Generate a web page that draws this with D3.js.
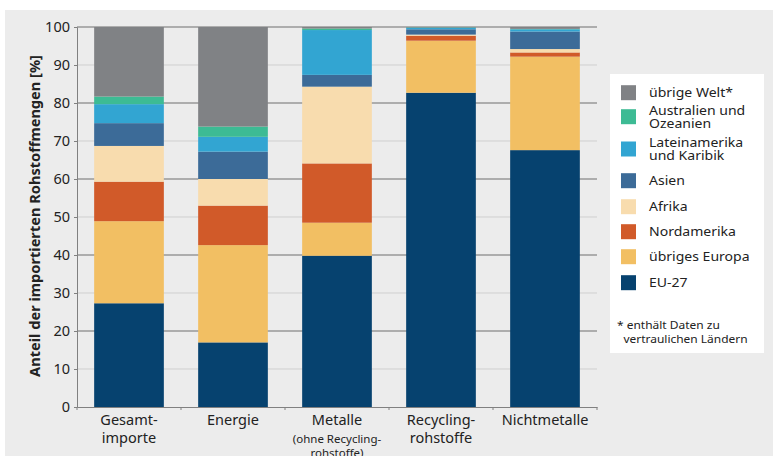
<!DOCTYPE html>
<html><head><meta charset="utf-8">
<script src="https://cdn.jsdelivr.net/npm/d3@7"></script>
<style>
html,body{margin:0;padding:0;background:#fff;}
svg{display:block;font-family:"Noto Sans","Open Sans",sans-serif;}
</style></head>
<body>
<svg id="c" width="773" height="456"></svg>
<script>
const categories = [["Gesamt-","importe"],["Energie"],["Metalle"],["Recycling-","rohstoffe"],["Nichtmetalle"]];
const categoryKeys = ["Gesamtimporte","Energie","Metalle","Recyclingrohstoffe","Nichtmetalle"];
const seriesNames = ["EU-27","übriges Europa","Nordamerika","Afrika","Asien","Lateinamerika und Karibik","Australien und Ozeanien","übrige Welt*"];
const eu27        = [27.3, 17.0, 39.8, 82.7, 67.6];
const uebrEuropa  = [21.6, 25.6,  8.7, 13.7, 24.6];
const nordamerika = [10.4, 10.4, 15.6,  1.3,  1.1];
const afrika      = [ 9.4,  7.0, 20.2,  0.3,  0.9];
const asien       = [ 6.0,  7.2,  3.1,  1.4,  4.6];
const lateinam    = [ 5.0,  3.9, 11.8,  0.4,  0.6];
const australien  = [ 2.0,  2.7,  0.4,  0.1,  0.1];
const uebrWelt    = [18.3, 26.2,  0.4,  0.1,  0.5];
const yTicks = [0,10,20,30,40,50,60,70,80,90,100];
const colors = ["#06426f","#f2bf63","#d15a29","#f8dcae","#3c6b98","#32a5d2","#3dbb94","#808285"];
const legendLabels = [["übrige Welt*"],["Australien und","Ozeanien"],["Lateinamerika","und Karibik"],["Asien"],["Afrika"],["Nordamerika"],["übriges Europa"],["EU-27"]];

const seriesVals = [eu27,uebrEuropa,nordamerika,afrika,asien,lateinam,australien,uebrWelt];
const rows = categoryKeys.map((k,i)=>{const r={cat:k}; seriesNames.forEach((s,j)=>r[s]=seriesVals[j][i]); return r;});
const stack = d3.stack().keys(seriesNames)(rows);

const svg = d3.select("#c");
svg.append("rect").attr("x",5).attr("y",10).attr("width",768).attr("height",446).attr("fill","#ececec");

const x = d3.scaleBand().domain(categoryKeys).range([77,597]).paddingInner(0.33).paddingOuter(0.165);
const y = d3.scaleLinear().domain([0,100]).range([407,27]);

// gridlines
svg.append("g").selectAll("line").data(yTicks.filter(d=>d>0)).join("line")
  .attr("x1",77).attr("x2",597).attr("y1",d=>y(d)).attr("y2",d=>y(d))
  .attr("stroke",d=>d%20===0?"#6e6e6e":"#cfcfcf").attr("stroke-width",1);

// bars
svg.append("g").selectAll("g").data(stack).join("g").attr("fill",(d,i)=>colors[i])
  .selectAll("rect").data(d=>d).join("rect")
  .attr("x",d=>x(d.data.cat)).attr("width",x.bandwidth())
  .attr("y",d=>y(d[1])).attr("height",d=>Math.max(0,y(d[0])-y(d[1])));

// axes
const yAxis = svg.append("g").attr("transform","translate(77,0)")
  .call(d3.axisLeft(y).tickValues(yTicks).tickSize(3).tickPadding(4));
yAxis.select(".domain").attr("stroke","#808080");
yAxis.selectAll(".tick line").attr("stroke","#808080");
yAxis.selectAll("text").attr("font-size",14.5).attr("fill","#222").attr("font-family","Noto Sans, Open Sans, sans-serif");

const xAxis = svg.append("g").attr("transform","translate(0,407)")
  .call(d3.axisBottom(x).tickSize(0).tickFormat(""));
xAxis.select(".domain").attr("stroke","#808080");
svg.append("g").selectAll("line").data(d3.range(categoryKeys.length+1)).join("line")
  .attr("x1",i=>77+x.step()*i).attr("x2",i=>77+x.step()*i).attr("y1",407).attr("y2",410)
  .attr("stroke","#808080");

// x labels
const xl = svg.append("g");
categoryKeys.forEach((k,i)=>{
  const cx = x(k)+x.bandwidth()/2;
  const t = xl.append("text").attr("x",cx).attr("y",425).attr("text-anchor","middle")
      .attr("font-size",14.5).attr("fill","#222");
  categories[i].forEach((s,j)=>{
    t.append("tspan").attr("x",cx).attr("dy",j===0?0:18).text(s);
  });
});
const mx = x("Metalle")+x.bandwidth()/2;
const sub = xl.append("text").attr("x",mx).attr("y",443).attr("text-anchor","middle").attr("font-size",11.5).attr("fill","#222");
sub.append("tspan").attr("x",mx).attr("dy",0).text("(ohne Recycling-");
sub.append("tspan").attr("x",mx).attr("dy",14).text("rohstoffe)");

// y title
svg.append("text").attr("transform","translate(40,216) rotate(-90)").attr("text-anchor","middle")
  .attr("font-size",14.6).attr("font-weight","bold").attr("fill","#222")
  .text("Anteil der importierten Rohstoffmengen [%]");

// legend
const lg = svg.append("g");
lg.append("rect").attr("x",610).attr("y",74).attr("width",154).attr("height",279).attr("fill","#fff");
const centers = [92.7,116.7,149,180.7,206.7,231.7,256.7,282.7];
legendLabels.forEach((lab,i)=>{
  const cy = centers[i];
  lg.append("rect").attr("x",621).attr("y",cy-7.5).attr("width",15).attr("height",15).attr("fill",colors[colors.length-1-i]);
  const n = lab.length;
  const t = lg.append("text")
    .attr("transform",`translate(649,${cy - (n-1)/2*13.3 + 4.6}) scale(1.08,1)`)
    .attr("font-size",13).attr("fill","#222");
  lab.forEach((s,j)=>{
    t.append("tspan").attr("x",0).attr("dy",j===0?0:13.3).text(s);
  });
});
const fn = lg.append("text").attr("transform","translate(617,329) scale(1.07,1)").attr("font-size",11.2).attr("fill","#222");
fn.append("tspan").attr("x",0).attr("dy",0).text("* enthält Daten zu");
fn.append("tspan").attr("x",6).attr("dy",14).text("vertraulichen Ländern");
</script>
</body></html>
